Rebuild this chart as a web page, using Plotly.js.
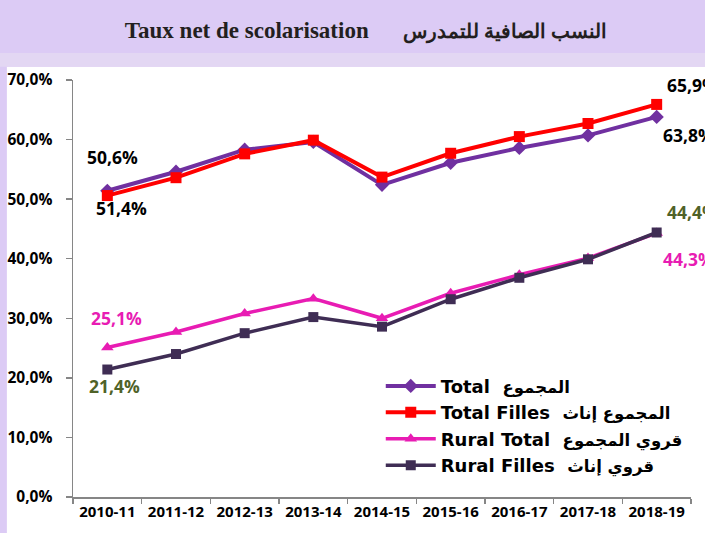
<!DOCTYPE html>
<html>
<head>
<meta charset="utf-8">
<script src="https://cdn.plot.ly/plotly-3.0.1.min.js"></script>
<style>
html,body{margin:0;padding:0;background:#dccbf5;}
#chart{width:705px;height:533px;}
</style>
</head>
<body>
<div id="chart"></div>
<script>
const categories = ["2010-11","2011-12","2012-13","2013-14","2014-15","2015-16","2016-17","2017-18","2018-19"];
const total = [51.4, 54.6, 58.3, 59.6, 52.4, 56.1, 58.6, 60.7, 63.8];
const totalFilles = [50.6, 53.6, 57.6, 59.9, 53.7, 57.7, 60.5, 62.7, 65.9];
const ruralTotal = [25.1, 27.7, 30.8, 33.3, 30.0, 34.2, 37.3, 40.1, 44.3];
const ruralFilles = [21.4, 24.0, 27.5, 30.2, 28.6, 33.2, 36.8, 39.9, 44.4];
const seriesLatin = ["Total", "Total Filles", "Rural Total", "Rural Filles"];
const seriesArabic = ["المجموع", "المجموع إناث", "قروي المجموع", "قروي إناث"];
const titleLatin = "Taux net de scolarisation";
const titleArabic = "النسب الصافية للتمدرس";
const yTicks = [0,10,20,30,40,50,60,70];
const yTickText = yTicks.map(v => v.toFixed(1).replace(".", ",") + "%");

const tickFont = "'Open Sans', 'DejaVu Sans', sans-serif";
const legendFont = "'DejaVu Sans', sans-serif";

function legendName(i){
  return seriesLatin[i] + "  <span style=\"font-size:16.5px\">" + seriesArabic[i] + "</span>";
}

function trace(y, i, color, symbol, size, width){
  return {x: categories, y: y, name: legendName(i), type: "scatter", mode: "lines+markers",
    line: {color: color, width: width}, marker: {symbol: symbol, size: size, color: color},
    hoverinfo: "skip"};
}

const data = [
  trace(total, 0, "#7030a0", "diamond", 11, 4),
  trace(totalFilles, 1, "#ff0000", "square", 11, 4),
  trace(ruralTotal, 2, "#e81cb3", "triangle-up", 11, 3.5),
  trace(ruralFilles, 3, "#3f2d54", "square", 10, 3.5)
];

function lab(xi, yv, text, color, anchor){
  return {x: xi, y: yv, xref: "x", yref: "y", text: text, showarrow: false,
    xanchor: anchor || "center", yanchor: "middle",
    font: {family: tickFont, size: 17.5, color: color, weight: "bold"}};
}

const layout = {
  width: 705, height: 533,
  margin: {l: 73, r: 14, t: 80, b: 36, autoexpand: false},
  paper_bgcolor: "#dccbf5",
  plot_bgcolor: "rgba(0,0,0,0)",
  showlegend: true,
  title: {
    text: titleLatin + "      <span style=\"font-size:20px\">" + titleArabic + "</span>",
    x: 366/705, xref: "container", xanchor: "center",
    y: 0.944, yref: "container", yanchor: "middle",
    font: {family: "'Liberation Serif', 'DejaVu Serif', serif", size: 23, color: "#231f20", weight: "bold"}
  },
  xaxis: {
    type: "category",
    range: [-0.5, categories.length - 0.5],
    autorange: false,
    tickson: "boundaries",
    tickangle: 0,
    ticks: "outside", ticklen: 5, tickcolor: "#868686", tickwidth: 1.5,
    showline: true, linecolor: "#868686", linewidth: 1.5,
    showgrid: false, zeroline: false,
    tickfont: {family: tickFont, size: 15, color: "#000", weight: "bold"},
    fixedrange: true
  },
  yaxis: {
    range: [0, 70],
    autorange: false,
    tickvals: yTicks,
    ticktext: yTickText,
    ticks: "outside", ticklen: 6, tickcolor: "#868686", tickwidth: 1.5,
    showline: true, linecolor: "#868686", linewidth: 1.5,
    showgrid: false, zeroline: false,
    tickfont: {family: tickFont, size: 15.5, color: "#000", weight: "bold"},
    ticklabelstandoff: 10,
    fixedrange: true
  },
  legend: {
    x: 0.498, y: 0.31, xanchor: "left", yanchor: "top",
    bgcolor: "rgba(0,0,0,0)",
    font: {family: legendFont, size: 18, color: "#000", weight: "bold"},
    itemwidth: 50,
    tracegroupgap: 0
  },
  shapes: [
    {type: "rect", xref: "paper", yref: "paper", x0: -0.107, x1: 1.05, y0: -0.1, y1: 1.032,
     fillcolor: "#ffffff", line: {width: 0}, layer: "below"},
    {type: "rect", xref: "paper", yref: "paper", x0: -0.2, x1: 1.05, y0: 1.032, y1: 1.065,
     fillcolor: "#e3d7f3", line: {width: 0}, layer: "below"}
  ],
  annotations: [
    lab(0.08, 57.1, "50,6%", "#000"),
    lab(0.2, 48.5, "51,4%", "#000"),
    lab(0.13, 30.0, "25,1%", "#e81cb3"),
    lab(0.1, 18.6, "21,4%", "#4f6228"),
    lab(8.12, 69.1, "65,9%", "#000", "left"),
    lab(8.07, 60.7, "63,8%", "#000", "left"),
    lab(8.12, 47.8, "44,4%", "#4f6228", "left"),
    lab(8.07, 40.0, "44,3%", "#e81cb3", "left")
  ]
};

Plotly.newPlot("chart", data, layout, {displayModeBar: false, staticPlot: true});
</script>
</body>
</html>
